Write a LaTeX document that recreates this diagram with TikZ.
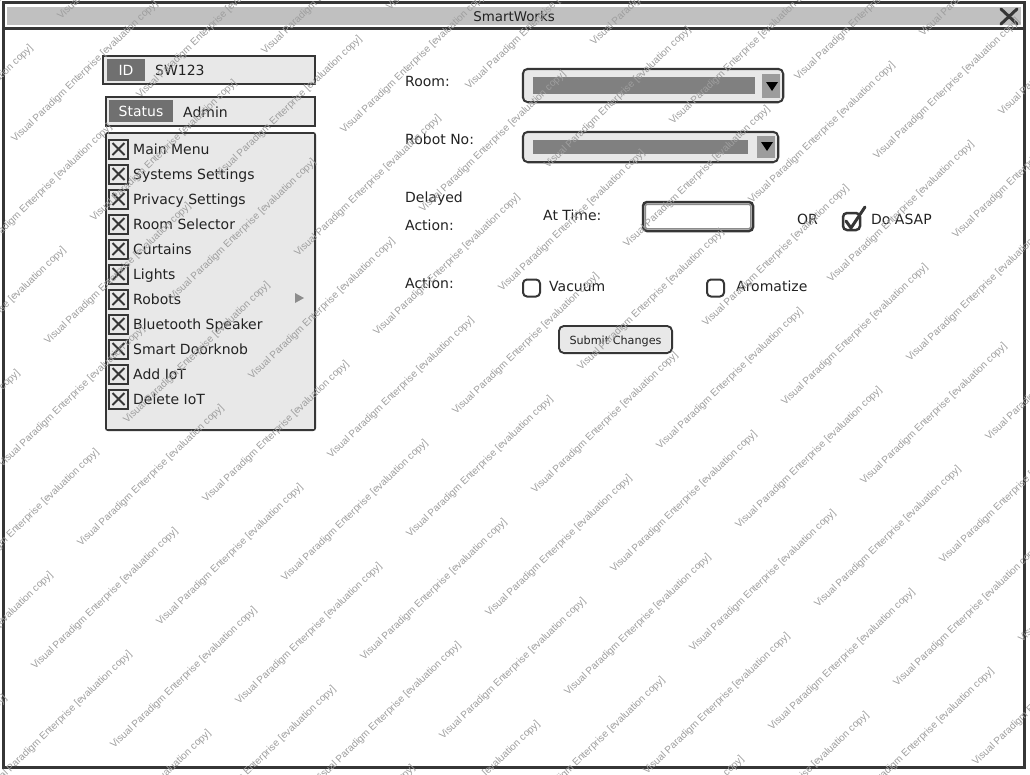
\documentclass[tikz,border=0pt]{standalone}
\usepackage{fontspec}
\setmainfont{DejaVu Sans}
\newfontfamily\wmfont{Liberation Sans}
\definecolor{frame}{HTML}{363636}
\definecolor{titlegray}{HTML}{C0C0C0}
\definecolor{panel}{HTML}{E8E8E8}
\definecolor{labelgray}{HTML}{707070}
\definecolor{bargray}{HTML}{808080}
\definecolor{btngray}{HTML}{9C9C9C}
\definecolor{ink}{HTML}{222222}
\tikzset{
  lbl/.style={font=\fontsize{14}{16}\selectfont, text=ink, inner sep=0pt, anchor=base west},
  wmark/.style={font=\wmfont\fontsize{10}{12}\selectfont, text=black!38, rotate=44, anchor=base west, inner sep=0pt},
  box/.style={draw=frame, line width=2.5pt, fill=white, inner sep=0pt},
  taglbl/.style={fill=labelgray, text=white, inner sep=0pt, font=\fontsize{14}{16}\selectfont, text height=10pt, text depth=0pt},
  cbox/.style={draw=frame, line width=2pt, fill=panel, minimum size=19pt, inner sep=0pt,
    path picture={\draw[frame, line width=1.8pt]
      ([shift={(3.5pt,3.5pt)}]path picture bounding box.south west) -- ([shift={(-3.5pt,-3.5pt)}]path picture bounding box.north east)
      ([shift={(3.5pt,-3.5pt)}]path picture bounding box.north west) -- ([shift={(-3.5pt,3.5pt)}]path picture bounding box.south east);}},
  rcb/.style={draw=frame, line width=2pt, rounded corners=4pt, fill=white, minimum size=17pt, inner sep=0pt},
  ddbox/.style={draw=frame, line width=2.5pt, rounded corners=5pt, fill=white, inner sep=0pt},
}
\begin{document}
\begin{tikzpicture}[x=1pt,y=-1pt]
\useasboundingbox (0,0) rectangle (1030,774);
\fill[white] (0,0) rectangle (1030,774);
% window frame
\fill[titlegray] (7,7) rectangle (1021,24.5);
\draw[frame, line width=3pt] (3,2.5) rectangle (1024.5,767.5);
\draw[frame, line width=3pt] (3,28) -- (1024.5,28);
\node[font=\fontsize{13.4}{16}\selectfont, text=ink, inner sep=0pt, anchor=base] (title) at (514,21) {SmartWorks};
\draw[frame, line width=3pt, line cap=round] (1001,9) -- (1017,24) (1001,24) -- (1017,9);
% ID box
\node[box, minimum width=212pt, minimum height=28pt] (idbox) at (209,70) {};
\fill[panel] ([shift={(2.5pt,2.5pt)}]idbox.south west) rectangle ([shift={(-2.5pt,-2.5pt)}]idbox.north east);
\node[taglbl, minimum width=38pt, minimum height=22pt] (idlab) at (126,70) {ID};
\node[lbl] (idval) at (155,75.5) {SW123};
% Status box
\node[box, minimum width=209pt, minimum height=29pt] (stbox) at (210.5,111.5) {};
\fill[panel] ([shift={(2.5pt,2.5pt)}]stbox.south west) rectangle ([shift={(-2.5pt,-2.5pt)}]stbox.north east);
\node[taglbl, minimum width=64pt, minimum height=22pt] (stlab) at (141,111) {Status};
\node[lbl] (stval) at (183,117.5) {Admin};
% menu panel
\node[draw=frame, line width=2pt, rounded corners=2pt, fill=white, inner sep=0pt, minimum width=209pt, minimum height=297pt] (menu) at (210.5,281.5) {};
\fill[panel] ([shift={(2pt,2pt)}]menu.south west) rectangle ([shift={(-2pt,-2pt)}]menu.north east);
\foreach \t [count=\k from 0] in {Main Menu,Systems Settings,Privacy Settings,Room Selector,Curtains,Lights,Robots,Bluetooth Speaker,Smart Doorknob,Add IoT,Delete IoT}{
  \node[cbox] (cb\k) at (118.5,149+25*\k) {};
  \node[lbl] (mi\k) at (133,154.5+25*\k) {\t};
}
\fill[black!45] (295,293) -- (304,298) -- (295,303) -- cycle;
% right side labels
\node[lbl] (roomlbl) at (405,86.5) {Room:};
\node[lbl] (robotlbl) at (405,144.5) {Robot No:};
\node[lbl] (delayed) at (405,202.5) {Delayed};
\node[lbl] (delact) at (405,230.5) {Action:};
\node[lbl] (attime) at (543,220.5) {At Time:};
\node[lbl] (orlbl) at (797,224.5) {OR};
\node[lbl] (asaplbl) at (871,224.5) {Do ASAP};
\node[lbl] (actlbl) at (405,288.5) {Action:};
\node[lbl] (vaclbl) at (549,291.5) {Vacuum};
\node[lbl] (aromlbl) at (736,291.5) {Aromatize};
% room dropdown
\node[ddbox, minimum width=260pt, minimum height=33pt] (roomdd) at (653,85.5) {};
\fill[panel, rounded corners=3pt] ([shift={(2.5pt,2.5pt)}]roomdd.south west) rectangle ([shift={(-2.5pt,-2.5pt)}]roomdd.north east);
\fill[bargray] (533,77) rectangle (755,94);
\fill[btngray] (762,74) rectangle (780,98);
\fill[black] (766,82) -- (778,82) -- (772,91) -- cycle;
% robot dropdown
\node[ddbox, minimum width=255pt, minimum height=30pt] (robotdd) at (650.5,147) {};
\fill[panel, rounded corners=3pt] ([shift={(2.5pt,2.5pt)}]robotdd.south west) rectangle ([shift={(-2.5pt,-2.5pt)}]robotdd.north east);
\fill[bargray] (533,140) rectangle (748,154);
\fill[btngray] (757,136) rectangle (775,158);
\fill[black] (761,142) -- (773,142) -- (767,151) -- cycle;
% time input
\node[ddbox, rounded corners=4pt, minimum width=110pt, minimum height=29pt] (timebox) at (698,216.5) {};
\draw[black!45, line width=1.5pt, rounded corners=2pt] ([shift={(3.5pt,3.5pt)}]timebox.south west) rectangle ([shift={(-3.5pt,-3.5pt)}]timebox.north east);
% do asap checkbox
\node[rcb, line width=2.5pt] (asap) at (851.5,221.5) {};
\draw[frame, line width=3pt, line cap=round, line join=round] (846,221) -- (851,228) -- (865,207);
% action checkboxes
\node[rcb] (vac) at (531.5,288) {};
\node[rcb] (arom) at (715.5,288) {};
% submit button
\node[draw=frame, line width=2pt, rounded corners=5pt, fill=white, inner sep=0pt, minimum width=113pt, minimum height=27pt] (submit) at (615.5,339.5) {};
\fill[panel, rounded corners=3pt] ([shift={(2.5pt,2.5pt)}]submit.south west) rectangle ([shift={(-2.5pt,-2.5pt)}]submit.north east);
\node[font=\fontsize{11.2}{13}\selectfont, text=ink, inner sep=0pt, anchor=base] (submittxt) at (615.5,344.5) {Submit Changes};
% watermark
\begin{scope}
\clip (0,0) rectangle (1030,774);
\foreach \i in {-5,...,10}{
  \foreach \j in {-3,...,10}{
    \pgfmathtruncatemacro{\wx}{35+79*\i+46*\j}
    \pgfmathtruncatemacro{\wy}{670+79*\i-123*\j}
    \pgfmathtruncatemacro{\vis}{and(and(\wx>-145,\wx<1030),and(\wy>0,\wy<912))}
    \ifnum\vis=1
      \node[wmark] (wm\i\j) at (\wx,\wy) {Visual Paradigm Enterprise [evaluation copy]};
    \fi
  }
}
\end{scope}
\end{tikzpicture}
\end{document}
